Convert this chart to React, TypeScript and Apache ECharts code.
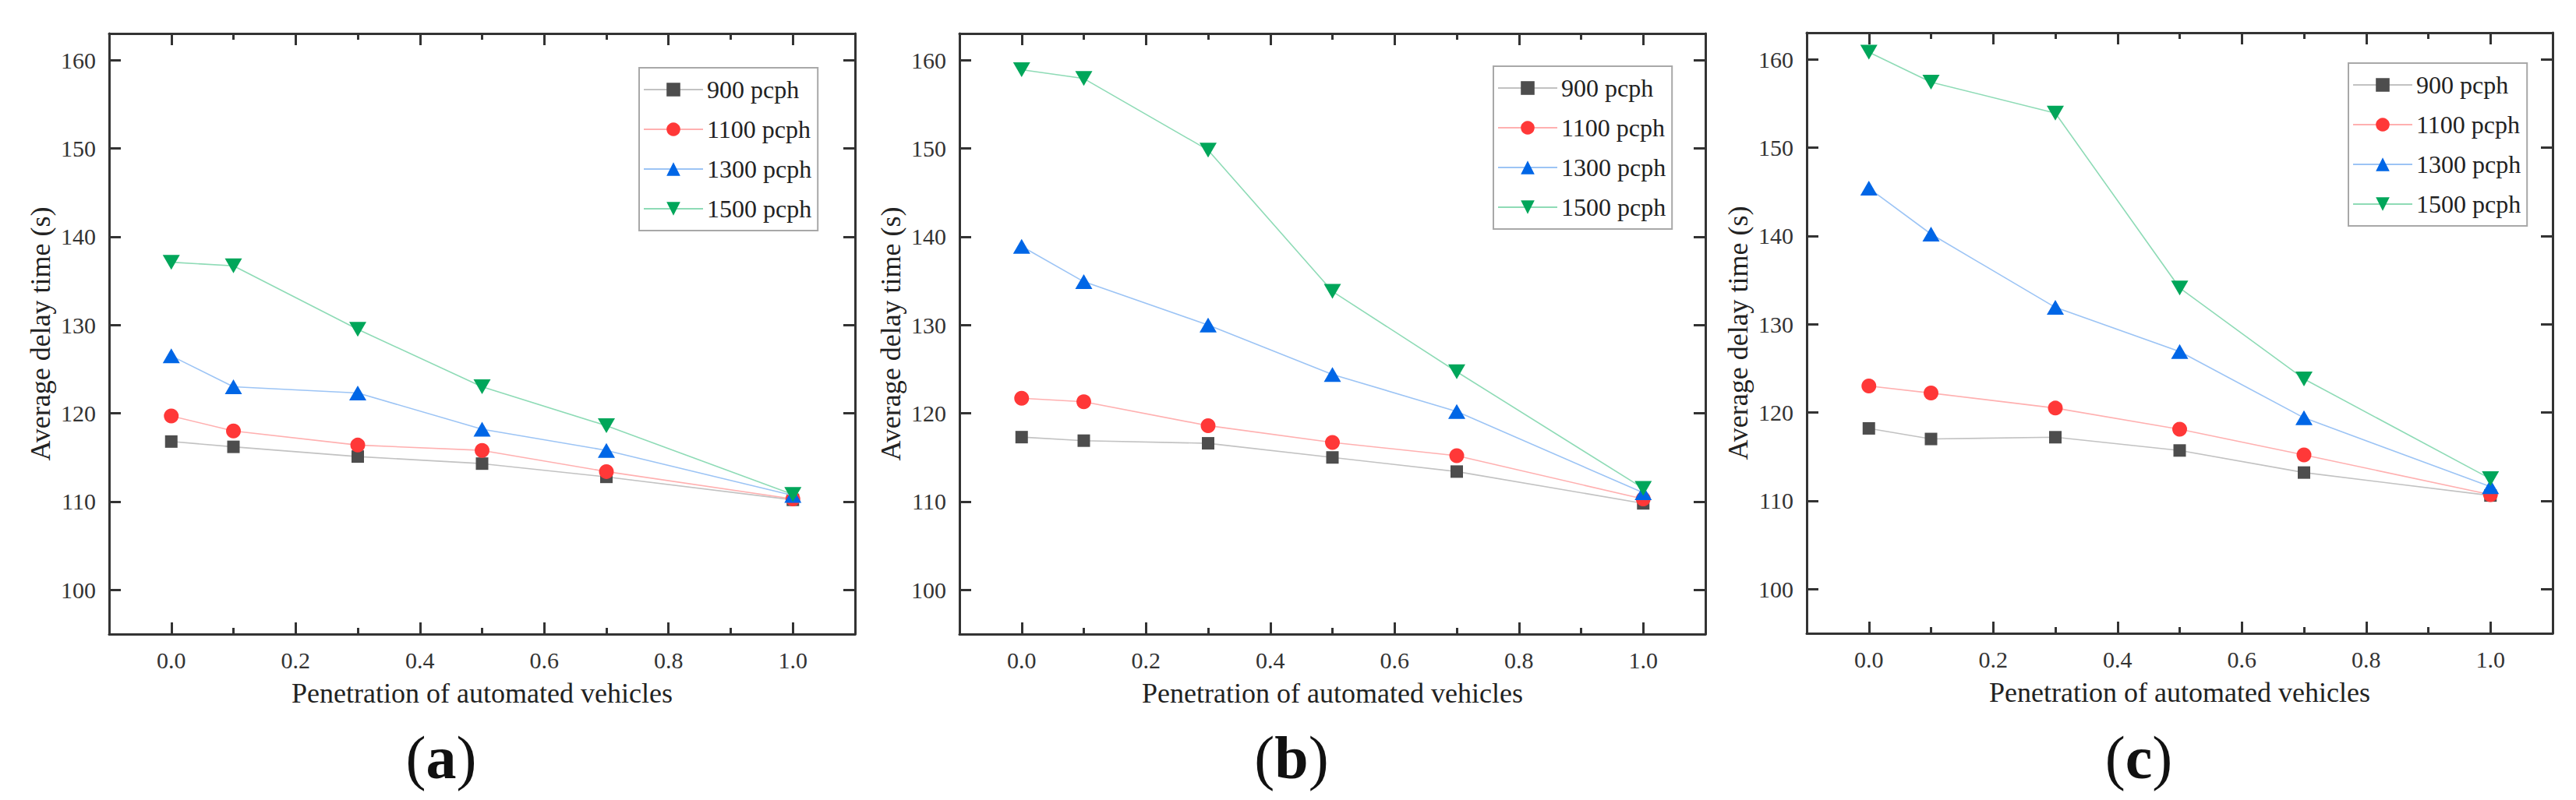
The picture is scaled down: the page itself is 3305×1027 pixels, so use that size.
import React, { useEffect, useRef } from "react";
import * as echarts from "echarts";

// ---- data ----
const penetration = [0, 0.1, 0.3, 0.5, 0.7, 1.0];
const seriesNames = ["900 pcph", "1100 pcph", "1300 pcph", "1500 pcph"];
const panelLabels = ["a", "b", "c"];

// panel (a)
const a900 = [116.8, 116.2, 115.1, 114.3, 112.8, 110.2];
const a1100 = [119.7, 118.0, 116.4, 115.8, 113.4, 110.3];
const a1300 = [126.5, 123.0, 122.3, 118.2, 115.8, 110.7];
const a1500 = [137.1, 136.7, 129.5, 123.0, 118.6, 110.8];
// panel (b)
const b900 = [117.3, 116.9, 116.6, 115.0, 113.4, 109.8];
const b1100 = [121.7, 121.3, 118.6, 116.7, 115.2, 110.3];
const b1300 = [138.9, 134.9, 130.0, 124.4, 120.2, 111.0];
const b1500 = [158.9, 157.9, 149.8, 133.8, 124.7, 111.5];
// panel (c)
const c900 = [118.2, 117.0, 117.2, 115.7, 113.2, 110.6];
const c1100 = [123.0, 122.2, 120.5, 118.1, 115.2, 110.7];
const c1300 = [145.4, 140.2, 131.9, 126.9, 119.4, 111.6];
const c1500 = [160.8, 157.4, 153.9, 134.1, 123.8, 112.5];

const panels = [
  [a900, a1100, a1300, a1500],
  [b900, b1100, b1300, b1500],
  [c900, c1100, c1300, c1500],
];

const xTitle = "Penetration of automated vehicles";
const yTitle = "Average delay time (s)";
const xMin = -0.1;
const xMax = 1.1;
const yMin = 95;
const yMax = 163;

// ---- styles / layout ----
const FONT = "Liberation Serif";
const AXIS = "#333333";
const markerColors = ["#4d4d4d", "#ff3838", "#0066e6", "#00a65a"];
const lineColors = ["#c2c2c2", "#ffb0b0", "#9cc4f5", "#8edbb6"];
const symbols = ["rect", "circle", "triangle", "path://M0,0 L10,0 L5,8.6 Z"];
const symbolSizes: any[] = [16, 19, [22, 19], [22, 19]];

const gridLefts = [140, 1231, 2318];
const gridTops = [43, 43, 42];
const gridW = 957;
const gridH = 771;
const legendPos = [
  { left: 820, top: 87 },
  { left: 1916, top: 85 },
  { left: 3013, top: 81 },
];

function buildOption() {
  const grid: any[] = [];
  const xAxis: any[] = [];
  const yAxis: any[] = [];
  const series: any[] = [];
  const legend: any[] = [];
  const graphic: any[] = [];

  panels.forEach((panel, i) => {
    grid.push({
      left: gridLefts[i],
      top: gridTops[i],
      width: gridW,
      height: gridH,
      show: false,
    });
    const tickCommon = {
      show: true,
      inside: true,
      length: 15,
      lineStyle: { color: AXIS, width: 3 },
    };
    const lineCommon = {
      show: true,
      onZero: false,
      lineStyle: { color: AXIS, width: 3 },
    };
    const xBase = {
      type: "value",
      gridIndex: i,
      min: xMin,
      max: xMax,
      splitNumber: 6,
      axisLine: lineCommon,
      axisTick: tickCommon,
      minorTick: {
        show: true,
        splitNumber: 2,
        length: 8,
        lineStyle: { color: AXIS, width: 3 },
      },
      splitLine: { show: false },
    };
    xAxis.push({
      ...xBase,
      position: "bottom",
      name: xTitle,
      nameLocation: "middle",
      nameGap: 58,
      nameTextStyle: { fontSize: 36, fontFamily: FONT, color: "#222" },
      axisLabel: {
        show: true,
        fontSize: 30,
        fontFamily: FONT,
        color: AXIS,
        margin: 18,
        formatter: (v: number) =>
          v < -1e-9 || v > 1 + 1e-9 ? "" : v.toFixed(1),
      },
    });
    xAxis.push({ ...xBase, position: "top", axisLabel: { show: false } });

    const yBase = {
      type: "value",
      gridIndex: i,
      min: yMin,
      max: yMax,
      splitNumber: 6,
      axisLine: lineCommon,
      axisTick: tickCommon,
      splitLine: { show: false },
    };
    yAxis.push({
      ...yBase,
      position: "left",
      name: yTitle,
      nameLocation: "middle",
      nameGap: 70,
      nameTextStyle: { fontSize: 36, fontFamily: FONT, color: "#222" },
      axisLabel: {
        show: true,
        fontSize: 30,
        fontFamily: FONT,
        color: AXIS,
        margin: 17,
        formatter: (v: number) => (Math.abs(v % 10) < 1e-9 ? String(v) : ""),
      },
    });
    yAxis.push({ ...yBase, position: "right", axisLabel: { show: false } });

    panel.forEach((vals, j) => {
      series.push({
        type: "line",
        name: seriesNames[j],
        xAxisIndex: i * 2,
        yAxisIndex: i * 2,
        data: penetration.map((x, k) => [x, vals[k]]),
        symbol: symbols[j],
        symbolSize: symbolSizes[j],
        showSymbol: true,
        lineStyle: { color: lineColors[j], width: 1.6 },
        itemStyle: { color: markerColors[j] },
        z: 3 + j,
      });
    });

    legend.push({
      show: true,
      orient: "vertical",
      align: "left",
      left: legendPos[i].left,
      top: legendPos[i].top,
      data: seriesNames,
      itemWidth: 76,
      itemHeight: 22,
      itemGap: 19,
      padding: [12, 8, 12, 5],
      borderColor: "#a8a8a8",
      borderWidth: 2,
      backgroundColor: "#ffffff",
      selectedMode: false,
      textStyle: { fontSize: 32, fontFamily: FONT, color: "#222" },
    });

    graphic.push({
      type: "text",
      x: gridLefts[i] + 426,
      y: 972,
      style: {
        text: `{p|(}{b|${panelLabels[i]}}{p|)}`,
        align: "center",
        verticalAlign: "middle",
        fill: "#111",
        rich: {
          p: { fontSize: 78, fontFamily: FONT, fill: "#111" },
          b: { fontSize: 78, fontFamily: FONT, fontWeight: "bold", fill: "#111" },
        },
      },
    });
  });

  return {
    animation: false,
    backgroundColor: "#ffffff",
    textStyle: { fontFamily: FONT },
    grid,
    xAxis,
    yAxis,
    series,
    legend,
    graphic,
  };
}

export default function App() {
  const ref = useRef<HTMLDivElement>(null);
  useEffect(() => {
    document.body.style.margin = "0";
    document.body.style.overflow = "hidden";
    if (!ref.current) return;
    const chart = echarts.init(ref.current, undefined, { renderer: "svg" });
    chart.setOption(buildOption() as any);
    return () => chart.dispose();
  }, []);
  return (
    <div
      ref={ref}
      style={{ position: "fixed", left: 0, top: 0, width: 3305, height: 1027 }}
    />
  );
}
